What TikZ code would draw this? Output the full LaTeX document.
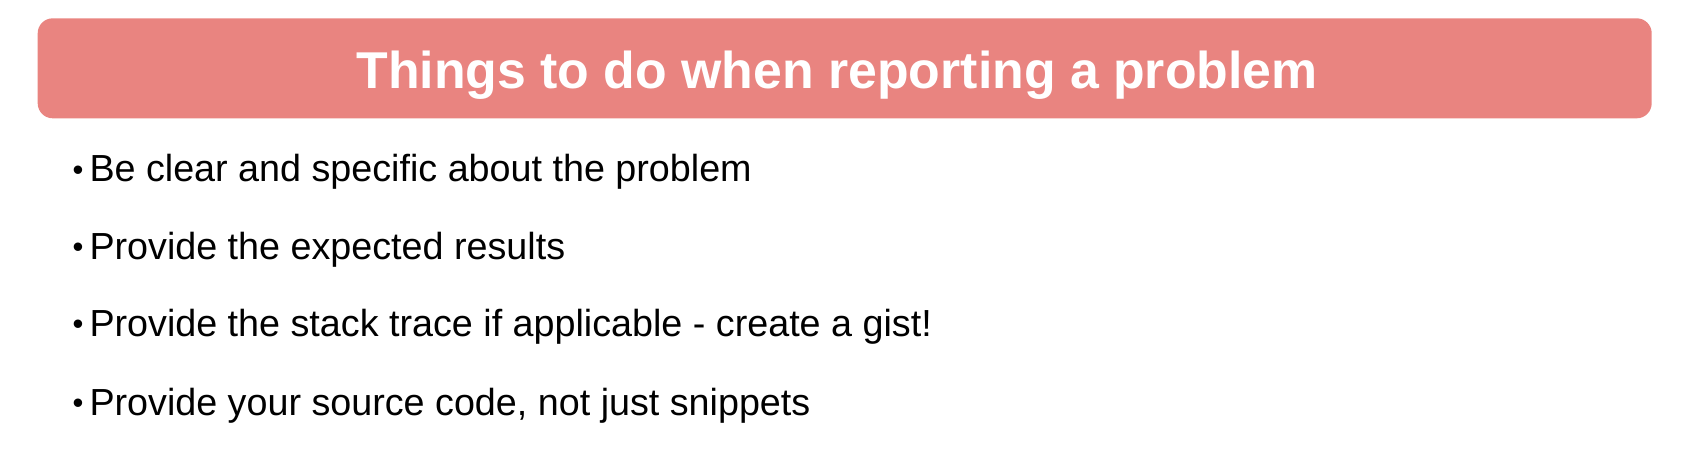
\documentclass[tikz,border=0pt]{standalone}
\usepackage{fontspec}
\setmainfont{Liberation Sans}
\usepackage{tikz}

\definecolor{headred}{HTML}{E98480}
\newcommand{\pt}[1]{\llap{\fontsize{31}{33}\selectfont\raisebox{1.5pt}{\textbullet}\hspace{6pt}}#1}

\tikzset{
  item/.style={anchor=base west, inner sep=0pt, font=\fontsize{37.7}{40}\selectfont},
}

\begin{document}
\begin{tikzpicture}[x=1pt,y=-1pt]
        \useasboundingbox (0,0) rectangle (1681,448);
        \fill[headred, rounded corners=15pt] (37.7,18.3) rectangle (1651.7,118.3);
        \node[anchor=base, inner sep=0pt, text=white, font=\fontsize{51.8}{56}\selectfont\bfseries] (title) at (837,88.3) {Things to do when reporting a problem};

        \node[item] (p1) at (89.3,181.7) {\pt{Be clear and specific about the problem}};
        \node[item] (p2) at (89.3,259.3) {\pt{Provide the expected results}};
        \node[item] (p3) at (89.3,336) {\pt{Provide the stack trace if applicable - create a gist!}};
        \node[item] (p4) at (89.3,415) {\pt{Provide your source code, not just snippets}};
      \end{tikzpicture}
\end{document}
